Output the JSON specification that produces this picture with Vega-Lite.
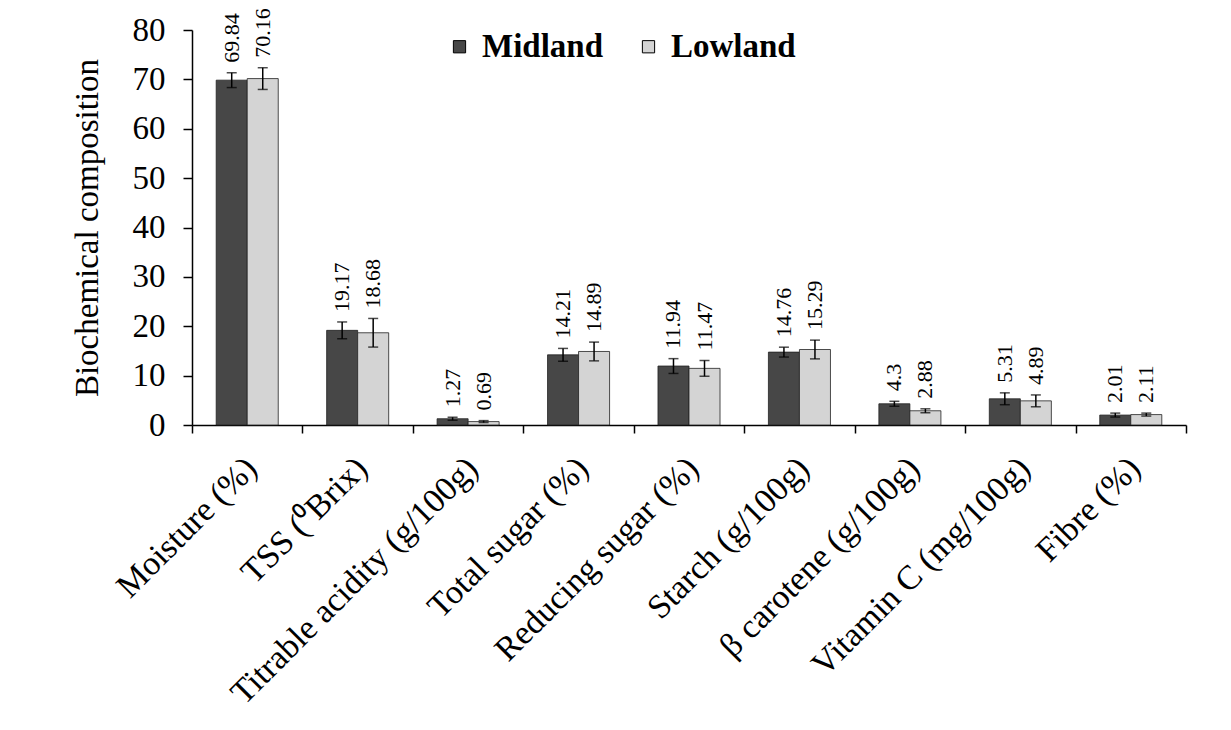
{
  "$schema": "https://vega.github.io/schema/vega-lite/v6.json",
  "width": 994,
  "height": 395,
  "autosize": {"type": "none"},
  "padding": {"left": 192, "top": 30, "right": 45, "bottom": 305},
  "background": "white",
  "config": {
    "font": "Liberation Serif",
    "view": {"stroke": null},
    "axis": {"domainColor": "black", "tickColor": "black", "labelColor": "black", "titleColor": "black", "grid": false, "domainWidth": 1.5, "tickWidth": 1.5}
  },
  "data": {
    "values": [
      {"param": "Moisture (%)", "site": "Midland", "value": 69.84, "lo": 68.34, "hi": 71.34},
      {"param": "Moisture (%)", "site": "Lowland", "value": 70.16, "lo": 67.96, "hi": 72.36},
      {"param": "TSS (⁰Brix)", "site": "Midland", "value": 19.17, "lo": 17.47, "hi": 20.87},
      {"param": "TSS (⁰Brix)", "site": "Lowland", "value": 18.68, "lo": 15.78, "hi": 21.58},
      {"param": "Titrable acidity (g/100g)", "site": "Midland", "value": 1.27, "lo": 0.97, "hi": 1.57},
      {"param": "Titrable acidity (g/100g)", "site": "Lowland", "value": 0.69, "lo": 0.49, "hi": 0.89},
      {"param": "Total sugar (%)", "site": "Midland", "value": 14.21, "lo": 12.91, "hi": 15.51},
      {"param": "Total sugar (%)", "site": "Lowland", "value": 14.89, "lo": 12.99, "hi": 16.79},
      {"param": "Reducing sugar (%)", "site": "Midland", "value": 11.94, "lo": 10.44, "hi": 13.44},
      {"param": "Reducing sugar (%)", "site": "Lowland", "value": 11.47, "lo": 9.87, "hi": 13.07},
      {"param": "Starch (g/100g)", "site": "Midland", "value": 14.76, "lo": 13.76, "hi": 15.76},
      {"param": "Starch (g/100g)", "site": "Lowland", "value": 15.29, "lo": 13.39, "hi": 17.19},
      {"param": "β carotene (g/100g)", "site": "Midland", "value": 4.3, "lo": 3.8, "hi": 4.8},
      {"param": "β carotene (g/100g)", "site": "Lowland", "value": 2.88, "lo": 2.48, "hi": 3.28},
      {"param": "Vitamin C (mg/100g)", "site": "Midland", "value": 5.31, "lo": 4.11, "hi": 6.51},
      {"param": "Vitamin C (mg/100g)", "site": "Lowland", "value": 4.89, "lo": 3.69, "hi": 6.09},
      {"param": "Fibre (%)", "site": "Midland", "value": 2.01, "lo": 1.61, "hi": 2.41},
      {"param": "Fibre (%)", "site": "Lowland", "value": 2.11, "lo": 1.81, "hi": 2.41}
    ]
  },
  "encoding": {
    "x": {
      "field": "param",
      "type": "nominal",
      "sort": ["Moisture (%)", "TSS (⁰Brix)", "Titrable acidity (g/100g)", "Total sugar (%)", "Reducing sugar (%)", "Starch (g/100g)", "β carotene (g/100g)", "Vitamin C (mg/100g)", "Fibre (%)"],
      "scale": {"paddingInner": 0, "paddingOuter": 0},
      "axis": {"title": null, "labelAngle": -45, "labelFontSize": 34, "tickBand": "extent", "tickSize": 8, "labelPadding": 18, "labelOffset": -8, "labelLimit": 400}
    },
    "xOffset": {"field": "site", "type": "nominal", "sort": ["Midland", "Lowland"], "scale": {"paddingInner": 0, "paddingOuter": 0.78}}
  },
  "layer": [
    {
      "mark": {"type": "bar", "stroke": "#222222", "strokeWidth": 0.8},
      "encoding": {
        "y": {
          "field": "value",
          "type": "quantitative",
          "scale": {"domain": [0, 80]},
          "axis": {"values": [0, 10, 20, 30, 40, 50, 60, 70, 80], "labelFontSize": 33, "tickSize": 9, "labelPadding": 18, "title": "Biochemical composition", "titleFontSize": 33, "titleFontWeight": "normal", "titlePadding": 28}
        },
        "color": {
          "field": "site",
          "type": "nominal",
          "scale": {"domain": ["Midland", "Lowland"], "range": ["#474747", "#d4d4d4"]},
          "legend": {"title": null, "orient": "none", "legendX": 251, "legendY": 0, "direction": "horizontal", "labelFontSize": 33, "labelFontWeight": "bold", "labelColor": "black", "symbolType": "square", "symbolSize": 150, "symbolStrokeColor": "black", "symbolStrokeWidth": 1, "columnPadding": 28, "labelOffset": 6}
        }
      }
    },
    {
      "mark": {"type": "rule", "color": "black", "strokeWidth": 1.5},
      "encoding": {"y": {"field": "lo", "type": "quantitative"}, "y2": {"field": "hi"}}
    },
    {
      "mark": {"type": "tick", "orient": "horizontal", "size": 10, "thickness": 1.5, "color": "black"},
      "encoding": {"y": {"field": "hi", "type": "quantitative"}}
    },
    {
      "mark": {"type": "tick", "orient": "horizontal", "size": 10, "thickness": 1.5, "color": "black"},
      "encoding": {"y": {"field": "lo", "type": "quantitative"}}
    },
    {
      "mark": {"type": "text", "angle": 270, "align": "left", "baseline": "middle", "dx": 10, "fontSize": 22, "color": "black"},
      "encoding": {"y": {"field": "hi", "type": "quantitative"}, "text": {"field": "value", "type": "nominal"}}
    }
  ]
}
